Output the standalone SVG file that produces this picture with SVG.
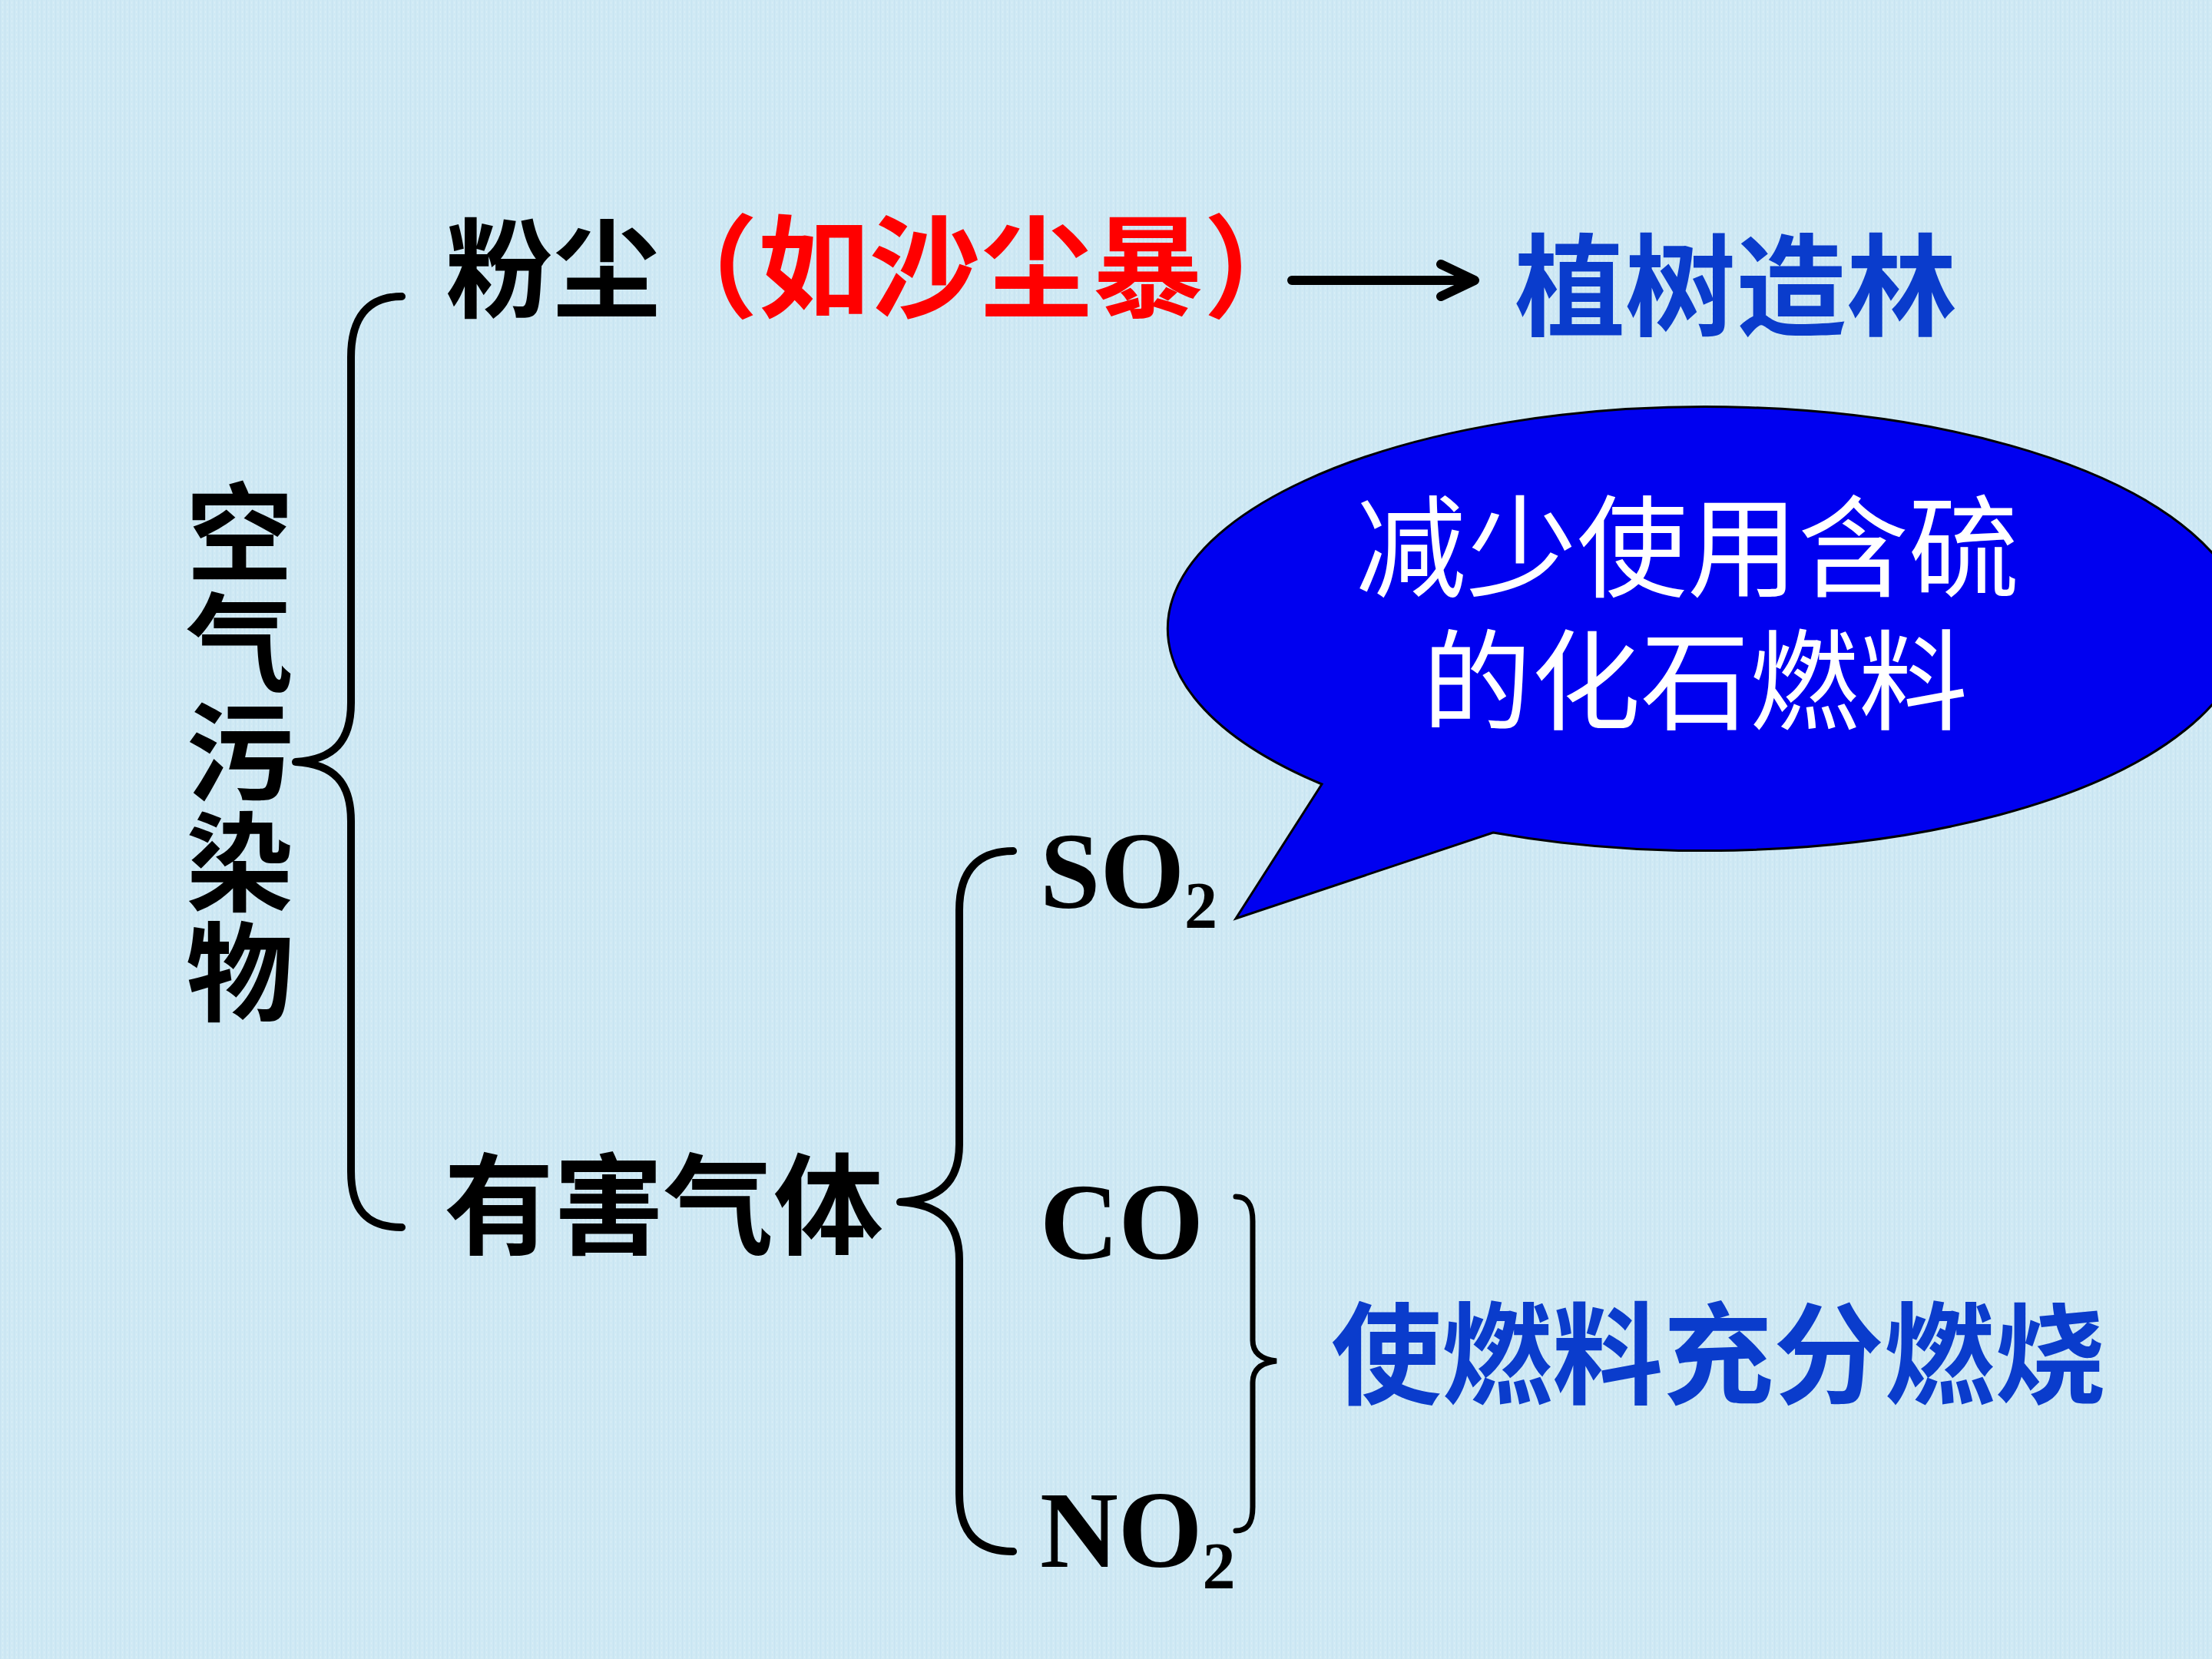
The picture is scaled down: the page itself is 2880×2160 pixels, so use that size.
<svg xmlns="http://www.w3.org/2000/svg" width="2880" height="2160" viewBox="0 0 2880 2160">
<defs>
<style>
.cjk{font-family:"Noto Sans CJK SC","Noto Sans CJK TC",sans-serif;}
.b{font-weight:700;}
.blk{fill:#000;}
.red{fill:#ff0000;}
.blu{fill:#0a3ccc;}
.wht{fill:#fff;font-weight:400;}
.chem{font-family:"Liberation Serif",serif;font-weight:700;fill:#000;}
.brace{fill:none;stroke:#000;stroke-width:10;stroke-linecap:round;stroke-linejoin:round;}
.brace2{fill:none;stroke:#000;stroke-width:7;stroke-linecap:round;}
.arr{fill:none;stroke:#000;stroke-width:12;stroke-linecap:round;stroke-linejoin:round;}
</style>
<pattern id="tex" width="6" height="6" patternUnits="userSpaceOnUse">
<rect width="6" height="6" fill="#cfe9f4"/>
<rect x="0" y="0" width="1" height="6" fill="#c2e0ee" opacity="0.6"/>
<rect x="3" y="2" width="1" height="3" fill="#dff1f9" opacity="0.7"/>
</pattern>
</defs>
<rect width="2880" height="2160" fill="url(#tex)"/>

<g id="connectors">
<path class="brace" d="M523 386 C478 386 457 415 457 465 L457 915 C457 965 435 989 385 992 C435 995 457 1019 457 1069 L457 1525 C457 1575 478 1598 523 1598"/>
<path class="brace" d="M1319 1108 C1272 1108 1249 1135 1249 1185 L1249 1490 C1249 1540 1222 1562 1172 1565 C1222 1568 1249 1590 1249 1640 L1249 1945 C1249 1995 1272 2020 1319 2020"/>
<path class="brace2" d="M1609 1558 C1624 1558 1631 1568 1631 1590 L1631 1745 C1631 1762 1643 1770 1662 1772 C1643 1774 1631 1782 1631 1800 L1631 1962 C1631 1984 1624 1993 1609 1993"/>
<path class="arr" d="M1682 365 L1918 365 M1876 344 L1920 365 L1876 386"/>
</g>

<g id="node-root">
<text class="cjk b blk" font-size="140" x="312" y="623" style="writing-mode:vertical-rl;letter-spacing:3px">空气污染物</text>
</g>

<g id="node-dust">
<text class="cjk b blk" font-size="140" x="580" y="402">粉尘</text>
<text class="cjk b red" font-size="145" x="842" y="402">（如沙尘暴）</text>
</g>

<g id="node-trees">
<text class="cjk b blu" font-size="144" x="1972" y="426">植树造林</text>
</g>

<g id="node-bubble">
<path d="M1721 1021 A701 289 0 1 1 1944 1084 L1609 1196 Z" fill="#0000f0" stroke="#000" stroke-width="3" stroke-linejoin="miter"/>
<text class="cjk wht" font-size="144"><tspan x="1765" y="766">减少使用含硫</tspan><tspan x="1852" y="939" font-size="142">的化石燃料</tspan></text>
</g>

<g id="node-gas">
<text class="cjk b blk" font-size="143" x="578" y="1622">有害气体</text>
</g>

<g id="node-so2">
<text class="chem" font-size="141" x="1354" y="1182">SO<tspan font-size="86" dy="26">2</tspan></text>
</g>
<g id="node-co">
<text class="chem" font-size="142" x="1354" y="1639">CO</text>
</g>
<g id="node-no2">
<text class="chem" font-size="141" x="1354" y="2040">NO<tspan font-size="86" dy="28">2</tspan></text>
</g>

<g id="node-burn">
<text class="cjk b blu" font-size="144" x="1733" y="1817">使燃料充分燃烧</text>
</g>
</svg>
